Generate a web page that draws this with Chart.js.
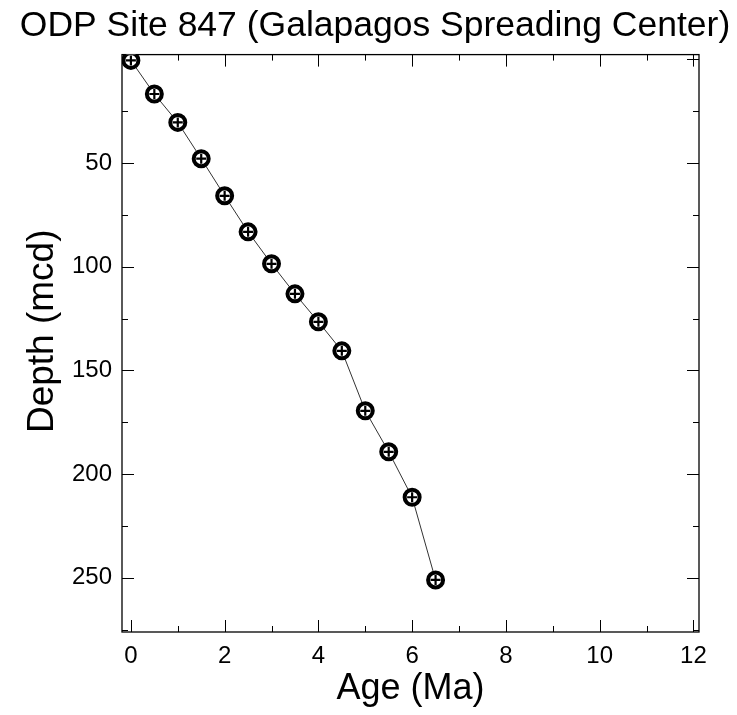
<!DOCTYPE html>
<html lang="en">
<head>
<meta charset="UTF-8">
<title>ODP Site 847 age-depth</title>
<script src="https://cdn.jsdelivr.net/npm/chart.js"></script>
<style>
  html, body { margin: 0; padding: 0; background: #fff; }
  #wrap { width: 737px; height: 715px; }
</style>
</head>
<body>
<div id="wrap"><canvas id="ageDepth" width="737" height="715"></canvas></div>
<script>
  // age tie points (Ma) and their composite depths (mcd)
  const ages   = [0, 0.5, 1.0, 1.5, 2.0, 2.5, 3.0, 3.5, 4.0, 4.5, 5.0, 5.5, 6.0, 6.5];
  const depths = [0.5, 16.7, 30.4, 47.9, 65.8, 83.2, 98.6, 113.1, 126.6, 140.6, 169.5, 189.3, 211.2, 251.1];

  // labelled ticks and the tick marks drawn inside the frame
  const ageLabels   = [0, 2, 4, 6, 8, 10, 12];
  const depthLabels = [50, 100, 150, 200, 250];
  const ageMajor   = [0, 2, 4, 6, 8, 10, 12];
  const ageMinor   = [1, 3, 5, 7, 9, 11];
  const depthMajor = [0, 50, 100, 150, 200, 250];
  const depthMinor = [25, 75, 125, 175, 225, 275];

  const FONT = 'Liberation Sans, Arial, Helvetica, sans-serif';

  // box round the plot with inward ticks on all four sides
  const frameTicks = {
    id: 'frameTicks',
    beforeDatasetsDraw(chart) {
      const { ctx, chartArea: a, scales: { x, y } } = chart;
      ctx.save();
      ctx.strokeStyle = '#000';
      ctx.lineWidth = 1;
      ctx.beginPath();
      const tick = (vals, len, horiz) => {
        vals.forEach(v => {
          if (horiz) {
            const px = Math.round(x.getPixelForValue(v)) + 0.5;
            ctx.moveTo(px, a.bottom); ctx.lineTo(px, a.bottom - len);
            ctx.moveTo(px, a.top);    ctx.lineTo(px, a.top + len);
          } else {
            const py = Math.round(y.getPixelForValue(v)) + 0.5;
            ctx.moveTo(a.left, py);  ctx.lineTo(a.left + len, py);
            ctx.moveTo(a.right, py); ctx.lineTo(a.right - len, py);
          }
        });
      };
      tick(ageMajor, 12, true);
      tick(ageMinor, 6, true);
      tick(depthMajor, 12, false);
      tick(depthMinor, 6, false);
      ctx.stroke();
      ctx.lineWidth = 1.3;
      ctx.strokeRect(a.left, a.top, a.right - a.left, a.bottom - a.top);
      ctx.restore();
    },
    // vertical axis title, set a little above the middle of the frame
    afterDraw(chart) {
      const { ctx, chartArea: a } = chart;
      ctx.save();
      ctx.translate(53, (a.top + a.bottom) / 2 - 12);
      ctx.rotate(-Math.PI / 2);
      ctx.fillStyle = '#000';
      ctx.font = '37px ' + FONT;
      ctx.textAlign = 'center';
      ctx.textBaseline = 'alphabetic';
      ctx.fillText('Depth (mcd)', 0, 0);
      ctx.restore();
    }
  };

  const points = ages.map((a, i) => ({ x: a, y: depths[i] }));

  new Chart(document.getElementById('ageDepth'), {
    type: 'line',
    data: {
      datasets: [
        {
          // plus signs sit on top of the circles
          data: points,
          showLine: false,
          pointStyle: 'cross',
          pointRadius: 5,
          pointBorderWidth: 2.2,
          pointBorderColor: '#000',
          order: 0
        },
        {
          data: points,
          borderColor: '#333',
          borderWidth: 1,
          tension: 0,
          pointStyle: 'circle',
          pointRadius: 7.5,
          pointBorderWidth: 4,
          pointBorderColor: '#000',
          pointBackgroundColor: '#fff',
          order: 1
        }
      ]
    },
    options: {
      responsive: false,
      animation: false,
      events: [],
      layout: { padding: { left: 13, right: 0, top: 0, bottom: 0 } },
      plugins: {
        legend: { display: false },
        tooltip: { enabled: false },
        title: {
          display: true,
          text: 'ODP Site 847 (Galapagos Spreading Center)',
          color: '#000',
          font: { family: FONT, size: 35.5, weight: 'normal', lineHeight: 1.2 },
          padding: { top: 5, bottom: 7 }
        }
      },
      scales: {
        x: {
          type: 'linear',
          min: -0.19,
          max: 12.12,
          grid: { display: false, drawTicks: false },
          border: { display: false },
          afterBuildTicks: s => { s.ticks = ageLabels.map(v => ({ value: v })); },
          afterFit: s => { s.height = 83; },
          ticks: {
            color: '#000',
            padding: 10,
            autoSkip: false,
            maxRotation: 0,
            font: { family: FONT, size: 24 }
          },
          title: {
            display: true,
            text: 'Age (Ma)',
            color: '#000',
            padding: { top: 0, bottom: 4 },
            font: { family: FONT, size: 36 }
          }
        },
        y: {
          type: 'linear',
          reverse: true,
          min: -2.3,
          max: 276.2,
          grid: { display: false, drawTicks: false },
          border: { display: false },
          afterBuildTicks: s => { s.ticks = depthLabels.map(v => ({ value: v })); },
          afterFit: s => { s.width = 109; },
          ticks: {
            color: '#000',
            padding: 10,
            autoSkip: false,
            font: { family: FONT, size: 24 }
          }
        },
        // empty right-hand axis that only reserves the margin beside the frame
        yRight: {
          type: 'linear',
          position: 'right',
          display: true,
          grid: { display: false, drawTicks: false },
          border: { display: false },
          ticks: { display: false },
          afterFit: s => { s.width = 38; }
        }
      }
    },
    plugins: [frameTicks]
  });
</script>
</body>
</html>
